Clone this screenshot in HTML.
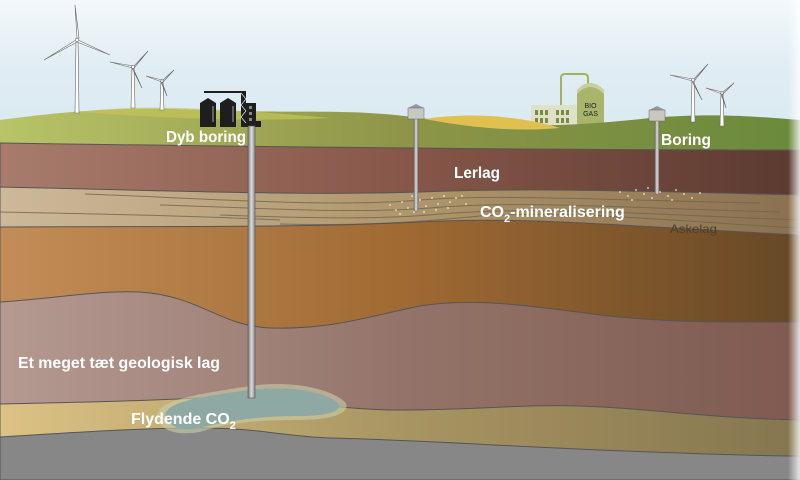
<!DOCTYPE html>
<html><head><meta charset="utf-8"><style>
html,body{margin:0;padding:0;width:800px;height:480px;overflow:hidden;background:#fff}
svg{display:block}
text{font-family:"Liberation Sans Narrow","Liberation Sans",sans-serif;font-weight:bold}
</style></head><body>
<svg width="800" height="480" viewBox="0 0 800 480" xmlns="http://www.w3.org/2000/svg">
<defs>
<linearGradient id="sky" x1="0" y1="0" x2="0" y2="1"><stop offset="0" stop-color="#f4f8fa"/><stop offset="0.15" stop-color="#dfecf3"/><stop offset="1" stop-color="#c4dce6"/></linearGradient>
<linearGradient id="grass" x1="0" x2="1"><stop offset="0" stop-color="#b8c468"/><stop offset="0.5" stop-color="#8e9548"/><stop offset="1" stop-color="#6a8a3c"/></linearGradient>
<linearGradient id="ler" x1="0" x2="1"><stop offset="0" stop-color="#a87c6c"/><stop offset="0.5" stop-color="#87574a"/><stop offset="1" stop-color="#5b3a30"/></linearGradient>
<linearGradient id="sand" x1="0" x2="1"><stop offset="0" stop-color="#cdb89a"/><stop offset="0.5" stop-color="#b0976c"/><stop offset="1" stop-color="#8a7050"/></linearGradient>
<linearGradient id="ora" x1="0" x2="1"><stop offset="0" stop-color="#c28d58"/><stop offset="0.5" stop-color="#a06a33"/><stop offset="1" stop-color="#664826"/></linearGradient>
<linearGradient id="pink" x1="0" x2="1"><stop offset="0" stop-color="#b59a92"/><stop offset="0.5" stop-color="#94746a"/><stop offset="1" stop-color="#7e5a50"/></linearGradient>
<linearGradient id="yel" x1="0" x2="1"><stop offset="0" stop-color="#dcc384"/><stop offset="0.5" stop-color="#a89562"/><stop offset="1" stop-color="#85764f"/></linearGradient>
<linearGradient id="pipe" x1="0" x2="1"><stop offset="0" stop-color="#777"/><stop offset="0.5" stop-color="#ddd"/><stop offset="1" stop-color="#888"/></linearGradient>
<linearGradient id="fadeR" x1="0" x2="1"><stop offset="0" stop-color="#fff" stop-opacity="0"/><stop offset="1" stop-color="#fff" stop-opacity="0.8"/></linearGradient>
</defs>
<rect width="800" height="480" fill="url(#sky)"/>
<!-- biogas (behind grass) -->
<path d="M561 106 L561 78 Q561 74 565 74 L584 74 Q588 74 588 78 L588 86" fill="none" stroke="#a8b060" stroke-width="2"/>
<rect x="531" y="105" width="46" height="30" fill="#dfe0c8"/>
<g fill="#7b8a44"><rect x="535" y="110" width="3" height="5"/><rect x="540" y="110" width="3" height="5"/><rect x="545" y="110" width="3" height="5"/><rect x="535" y="118" width="3" height="5"/><rect x="540" y="118" width="3" height="5"/><rect x="545" y="118" width="3" height="5"/><rect x="556" y="110" width="3" height="5"/><rect x="561" y="110" width="3" height="5"/><rect x="566" y="110" width="3" height="5"/><rect x="556" y="118" width="3" height="5"/><rect x="561" y="118" width="3" height="5"/><rect x="566" y="118" width="3" height="5"/></g>
<path d="M577 135 L577 90 Q590 76 604 90 L604 135Z" fill="#a9b56a"/>
<path d="M577 94 Q590 80 604 94 L604 90 Q590 76 577 90Z" fill="#c8cfa0"/>
<text x="590.5" y="108" font-size="7" fill="#222" text-anchor="middle" style="font-weight:normal">BIO</text>
<text x="590.5" y="116" font-size="7" fill="#222" text-anchor="middle" style="font-weight:normal">GAS</text>
<!-- grass -->
<path d="M0 120 C60 112 120 106 200 110 C300 114 350 108 420 118 C500 128 560 128 650 118 C720 112 770 118 800 120 L800 160 L0 160 Z" fill="url(#grass)"/>
<path d="M80 112 C140 104 220 108 330 118 C250 122 160 118 80 112Z" fill="#c2c45a" opacity="0.7"/>
<path d="M425 119 C470 112 520 116 560 128 C520 132 470 128 425 119Z" fill="#e0c050"/>
<!-- lerlag -->
<path d="M0 143 C200 146 500 150 800 150 L800 260 L0 260Z" fill="url(#ler)" stroke="#555" stroke-width="1"/>
<!-- sand -->
<path d="M0 187 C150 190 300 196 420 192 C520 188 600 190 800 195 L800 300 L0 300Z" fill="url(#sand)" stroke="#555" stroke-width="1"/>
<g fill="none" stroke="#6d6550" stroke-width="1" opacity="0.8">
<path d="M85 194 C200 198 330 208 420 200 C500 194 600 200 760 203"/>
<path d="M160 205 C260 208 350 214 430 208 C520 200 620 208 780 212"/>
<path d="M220 215 C300 218 380 220 440 214 C540 206 640 214 800 220"/>
<path d="M280 224 C360 226 420 222 480 216 C580 210 680 222 800 228"/>
<path d="M0 212 C100 214 200 216 280 220"/>
</g>
<!-- orange -->
<path d="M0 227 C150 226 300 228 420 222 C520 216 620 226 800 235 L800 480 L0 480Z" fill="url(#ora)" stroke="#555" stroke-width="1"/>
<!-- pink -->
<path d="M0 302 C60 298 100 290 140 292 C200 296 220 326 270 328 C330 330 370 316 420 306 C470 298 520 304 600 315 C680 324 740 322 800 322 L800 480 L0 480Z" fill="url(#pink)" stroke="#555" stroke-width="1"/>
<!-- yellow -->
<path d="M0 404 C80 402 120 402 200 398 C280 394 320 410 400 410 C480 410 520 404 580 406 C650 408 700 418 800 420 L800 480 L0 480Z" fill="url(#yel)" stroke="#555" stroke-width="1"/>
<!-- gray -->
<path d="M0 437 C80 432 140 428 200 428 C260 428 280 436 330 438 C420 440 500 446 600 450 C700 454 760 456 800 456 L800 480 L0 480Z" fill="#878787" stroke="#555" stroke-width="1"/>
<!-- CO2 pool -->
<path d="M158 420 C150 400 200 394 250 386 C290 380 330 388 345 402 C352 412 335 420 300 420 C260 420 230 422 200 432 C175 436 162 430 158 420Z" fill="#c9cfa8" opacity="0.6"/>
<path d="M166 418 C160 402 205 396 250 390 C290 385 326 392 338 403 C344 410 330 416 300 416 C262 416 230 420 200 428 C180 432 170 426 166 418Z" fill="#8ea9a4"/>
<!-- speckles -->
<g fill="#f4ecd0">
<circle cx="390" cy="205" r="0.9"/><circle cx="396" cy="210" r="0.9"/><circle cx="402" cy="202" r="0.9"/><circle cx="408" cy="208" r="0.9"/><circle cx="414" cy="212" r="0.9"/><circle cx="420" cy="200" r="0.9"/><circle cx="426" cy="206" r="0.9"/><circle cx="432" cy="198" r="0.9"/><circle cx="438" cy="204" r="0.9"/><circle cx="444" cy="196" r="0.9"/><circle cx="450" cy="202" r="0.9"/><circle cx="456" cy="198" r="0.9"/><circle cx="400" cy="214" r="0.9"/><circle cx="412" cy="196" r="0.9"/><circle cx="424" cy="212" r="0.9"/><circle cx="436" cy="210" r="0.9"/><circle cx="448" cy="208" r="0.9"/><circle cx="462" cy="196" r="0.9"/><circle cx="466" cy="204" r="0.9"/>
<circle cx="620" cy="192" r="0.9"/><circle cx="628" cy="196" r="0.9"/><circle cx="636" cy="190" r="0.9"/><circle cx="644" cy="194" r="0.9"/><circle cx="652" cy="198" r="0.9"/><circle cx="660" cy="192" r="0.9"/><circle cx="668" cy="196" r="0.9"/><circle cx="676" cy="190" r="0.9"/><circle cx="684" cy="194" r="0.9"/><circle cx="692" cy="198" r="0.9"/><circle cx="700" cy="193" r="0.9"/><circle cx="632" cy="200" r="0.9"/><circle cx="648" cy="188" r="0.9"/><circle cx="672" cy="200" r="0.9"/>
</g>
<!-- wind turbines -->
<g fill="#fff" stroke="#666" stroke-width="0.6">
<path d="M76 40 L78 40 L79 113 L75 113Z"/><path d="M77 38 L75 5 L79 38Z"/><path d="M78 40 L110 55 L77 42Z"/><path d="M76 40 L44 60 L77 42Z"/><circle cx="77" cy="40" r="1.8"/>
<path d="M132 67 L134 67 L135 108 L131 108Z"/><path d="M133 66 L110 62 L133 68Z"/><path d="M134 66 L148 51 L134 68Z"/><path d="M133 68 L142 88 L132 68Z"/><circle cx="133" cy="67" r="1.5"/>
<path d="M161 81 L163 81 L164 110 L160 110Z"/><path d="M162 80 L146 76 L162 82Z"/><path d="M163 80 L174 70 L163 82Z"/><path d="M162 82 L167 96 L161 82Z"/><circle cx="162" cy="81" r="1.3"/>
<path d="M692 80 L694 80 L695 122 L691 122Z"/><path d="M693 79 L670 75 L693 81Z"/><path d="M694 79 L708 64 L694 81Z"/><path d="M693 81 L702 100 L692 81Z"/><circle cx="693" cy="80" r="1.5"/>
<path d="M721 93 L723 93 L724 126 L720 126Z"/><path d="M722 92 L706 88 L722 94Z"/><path d="M723 92 L734 83 L723 94Z"/><path d="M722 94 L726 108 L721 94Z"/><circle cx="722" cy="93" r="1.3"/>
</g>
<!-- deep drilling rig -->
<g fill="#1e1e1e">
<path d="M200 127 L200 103 L208 98 L216 103 L216 127Z"/>
<path d="M220 127 L220 103 L228 98 L236 103 L236 127Z"/>
<rect x="204" y="91" width="42" height="2"/>
<rect x="241" y="91" width="5" height="36"/>
<rect x="246" y="103" width="10" height="24"/>
<rect x="256" y="121" width="5" height="6"/>
</g>
<g stroke="#fff" stroke-width="0.6" fill="none"><path d="M241 93 L246 99 L241 105 L246 111 L241 117 L246 123"/><line x1="213" y1="106" x2="213" y2="122"/><line x1="233" y1="106" x2="233" y2="122"/></g>
<g fill="#888"><rect x="249" y="106" width="3" height="3"/><rect x="249" y="112" width="3" height="3"/><rect x="249" y="118" width="3" height="3"/></g>
<!-- pipes -->
<rect x="248" y="126" width="7" height="272" fill="url(#pipe)" stroke="#555" stroke-width="0.6"/>
<rect x="414" y="114" width="4" height="97" fill="url(#pipe)" stroke="#666" stroke-width="0.4"/>
<rect x="655" y="118" width="4" height="76" fill="url(#pipe)" stroke="#666" stroke-width="0.4"/>
<g><path d="M408 108 L416 104 L424 108Z" fill="#999"/><rect x="408" y="108" width="16" height="11" fill="#c8c8c0" stroke="#666" stroke-width="0.5"/>
<path d="M649 110 L657 106 L665 110Z" fill="#999"/><rect x="649" y="110" width="16" height="11" fill="#c8c8c0" stroke="#666" stroke-width="0.5"/></g>
<!-- labels -->
<text x="166" y="142" font-size="16" fill="#fff" textLength="80" lengthAdjust="spacingAndGlyphs">Dyb boring</text>
<text x="454" y="178" font-size="16" fill="#fff" textLength="46" lengthAdjust="spacingAndGlyphs">Lerlag</text>
<text x="661" y="145" font-size="16" fill="#fff" textLength="50" lengthAdjust="spacingAndGlyphs">Boring</text>
<text x="480" y="217" font-size="16" fill="#fff">CO<tspan font-size="11" dy="5">2</tspan><tspan dy="-5">-mineralisering</tspan></text>
<text x="670" y="233" font-size="12" fill="#4a4030" style="font-weight:normal" textLength="47" lengthAdjust="spacingAndGlyphs">Askelag</text>
<text x="18" y="368" font-size="16" fill="#fff" textLength="202" lengthAdjust="spacingAndGlyphs">Et meget tæt geologisk lag</text>
<text x="131" y="424" font-size="16" fill="#fff">Flydende CO<tspan font-size="11" dy="5">2</tspan></text>
<!-- edge fades -->
<rect x="788" y="0" width="12" height="480" fill="url(#fadeR)"/>
</svg>
</body></html>
